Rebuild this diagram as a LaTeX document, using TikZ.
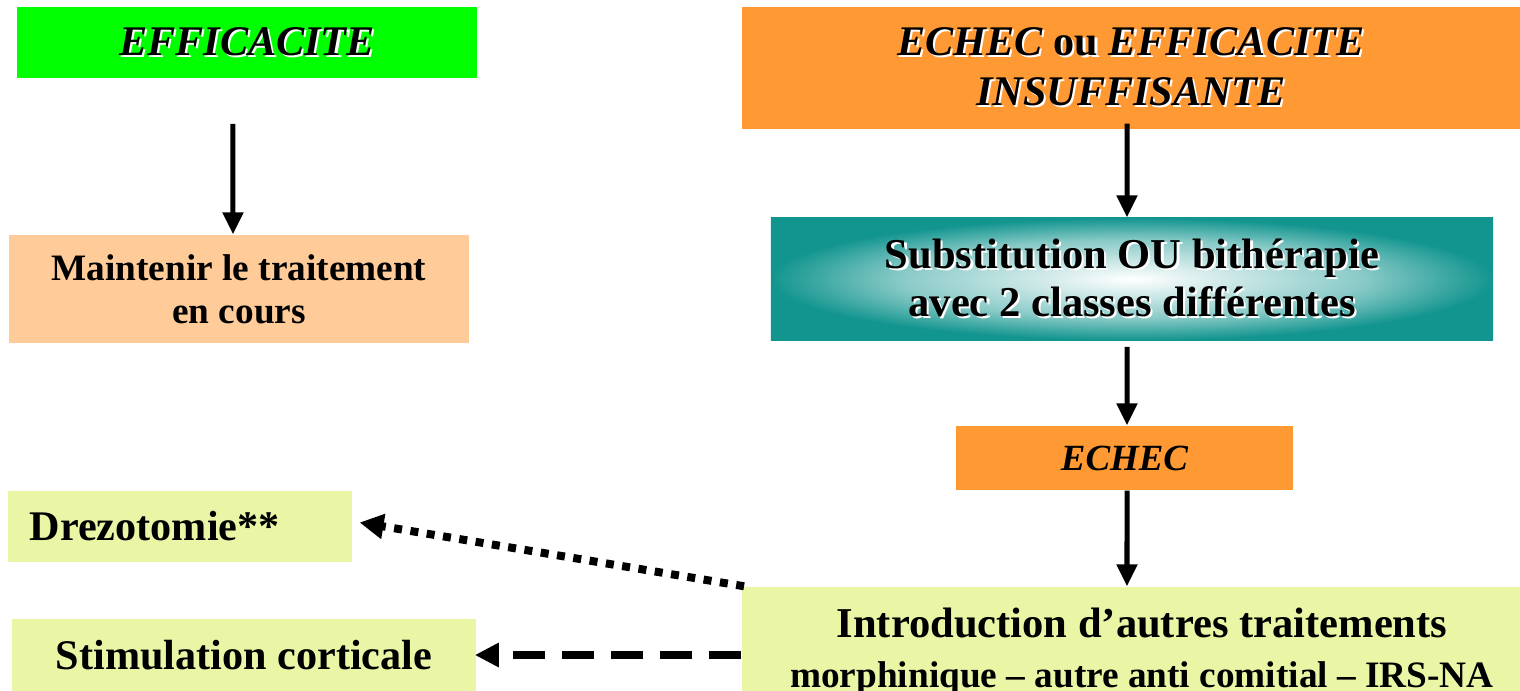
\documentclass[tikz,border=0pt]{standalone}
\usepackage{fontspec}
\setmainfont{Liberation Serif}
\usetikzlibrary{arrows.meta}

\definecolor{vertvif}{HTML}{00FF00}
\definecolor{orangevif}{HTML}{FF9933}
\definecolor{peche}{HTML}{FFCC99}
\definecolor{sarcelle}{HTML}{13958F}
\definecolor{citron}{HTML}{EAF6A6}
\colorlet{sarcelleclair}{white!50!sarcelle}
\pgfdeclareradialshading{ecran}{\pgfpoint{0bp}{0bp}}{color(0bp)=(white); color(16bp)=(sarcelleclair); color(25bp)=(sarcelle); color(50bp)=(sarcelle)}

\newcommand{\ombre}[1]{\makebox[0pt][l]{\hspace{0.6pt}\raisebox{-0.6pt}{\textcolor{white}{#1}}}#1}

\begin{document}
\begin{tikzpicture}[
    x=0.01cm, y=-0.01cm,
    boite/.style={rectangle, inner sep=0pt, align=center, font=\fontsize{12}{14}\selectfont\bfseries},
    titre/.style={boite, font=\fontsize{12}{14.2}\selectfont\bfseries\itshape},
    fleche/.style={-{Triangle[length=0.22cm, width=0.2cm]}, line width=0.05cm},
    pointille/.style={-{Triangle[length=0.24cm, width=0.24cm]}, line width=0.08cm, dash pattern=on 0.08cm off 0.085cm},
    tirets/.style={-{Triangle[length=0.24cm, width=0.23cm]}, line width=0.08cm, dash pattern=on 0.32cm off 0.17cm}
]
\clip (0,0) rectangle (1520,690);
\fill[white] (0,0) rectangle (1520,690);

% colonne gauche
\node[titre, fill=vertvif, minimum width=4.6cm, minimum height=0.71cm] (effic) at (247,42.5) {\ombre{EFFICACITE}};
\node[boite, fill=peche, minimum width=4.6cm, minimum height=1.08cm,
      font=\fontsize{10.6}{12.2}\selectfont\bfseries] (maint) at (239,289) {Maintenir le traitement\\en cours};

% colonne droite
\node[titre, fill=orangevif, minimum width=7.78cm, minimum height=1.22cm] (echecou) at (1131,68)
    {\ombre{ECHEC \textup{ou} EFFICACITE}\\\ombre{INSUFFISANTE}};
\node[boite, shading=ecran, minimum width=7.22cm, minimum height=1.22cm,
      font=\fontsize{12.1}{13.7}\selectfont\bfseries] (subst) at (1132,279)
    {\ombre{Substitution OU bithérapie}\\\ombre{avec 2 classes différentes}};
\node[boite, fill=orangevif, minimum width=3.37cm, minimum height=0.64cm,
      font=\fontsize{10.5}{12}\selectfont\bfseries\itshape] (echec) at (1124.5,458) {ECHEC};
\node[boite, fill=citron, minimum width=8cm, minimum height=1.3cm,
      font=\fontsize{12.1}{12.5}\selectfont\bfseries] (intro) at (1142,652)
    {Introduction d’autres traitements\\[0.06cm]{\fontsize{10.6}{12}\selectfont morphinique -- autre anti comitial -- IRS-NA}};

% autres options
\node[boite, fill=citron, anchor=west, text width=3cm, inner xsep=0.22cm, minimum height=0.71cm, align=left] (drez) at (7,526.5) {Drezotomie**};
\node[boite, fill=citron, minimum width=4.64cm, minimum height=0.72cm] (stim) at (244,655) {Stimulation corticale};

\draw[fleche, shorten <=0.45cm] ([xshift=-0.14cm]effic.south) -- ([xshift=-0.06cm]maint.north);
\draw[fleche, shorten <=-0.06cm] ([xshift=-0.04cm]echecou.south) -- ([xshift=-0.05cm]subst.north);
\draw[fleche, shorten <=0.06cm] ([xshift=-0.05cm]subst.south) -- ([xshift=0.025cm]echec.north);
\draw[fleche] ([xshift=0.025cm]echec.south) -- ([xshift=-0.15cm]intro.north);
\draw[pointille] ([xshift=0.03cm]intro.north west) -- ([xshift=0.07cm, yshift=0.04cm]drez.east);
\draw[tirets] (intro.west |- stim.east) -- ([xshift=-0.02cm]stim.east);
\end{tikzpicture}
\end{document}
